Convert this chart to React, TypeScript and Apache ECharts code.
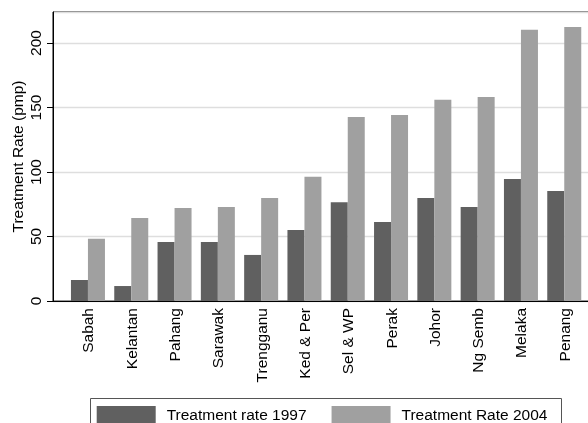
import React, { useEffect, useRef } from "react";
import * as echarts from "echarts";

const categories = ["Sabah", "Kelantan", "Pahang", "Sarawak", "Trengganu", "Ked & Per", "Sel & WP", "Perak", "Johor", "Ng Semb", "Melaka", "Penang"];
const rate1997 = [16.3, 11.6, 45.7, 45.7, 35.7, 55.0, 76.5, 61.2, 79.8, 72.9, 94.6, 85.3];
const rate2004 = [48.3, 64.3, 72.1, 72.9, 79.8, 96.4, 142.6, 144.2, 156.0, 158.1, 210.3, 212.4];
const yTicks = [0, 50, 100, 150, 200];

const FONT = "'Liberation Sans', Arial, sans-serif";
const FS = 15.5;

export default function App() {
  const ref = useRef<HTMLDivElement>(null);
  useEffect(() => {
    const chart = echarts.init(ref.current!, null, { renderer: "svg" });
    const yMax = 224;
    chart.setOption({
      animation: false,
      textStyle: { fontFamily: FONT },
      grid: [
        { left: 66.3, top: 12, width: 519.6, height: 289, containLabel: false, outerBoundsMode: "none" },
        {
          left: 53,
          top: 12,
          width: 560,
          height: 289,
          show: true,
          borderColor: "#000",
          borderWidth: 1,
          backgroundColor: "transparent",
          containLabel: false,
          outerBoundsMode: "none",
        },
      ],
      graphic: [
        {
          type: "polyline",
          shape: { points: [[90.5, 430], [90.5, 398.5], [561.5, 398.5], [561.5, 430]] },
          style: { fill: "none", stroke: "#555", lineWidth: 1 },
          z: 0,
        },
      ],
      legend: {
        left: 90,
        top: 398,
        orient: "horizontal",
        padding: [8, 0, 8, 6.7],
        itemGap: 25,
        itemWidth: 59,
        itemHeight: 17,
        borderWidth: 0,
        icon: "rect",
        textStyle: { fontFamily: FONT, fontSize: FS, color: "#000", padding: [0, 0, 0, 6] },
        data: ["Treatment rate 1997", "Treatment Rate 2004"],
      },
      xAxis: [
        {
          type: "category",
          gridIndex: 0,
          data: categories,
          axisLine: { show: false },
          axisTick: { show: false },
          axisLabel: { rotate: 90, margin: 7, fontFamily: FONT, fontSize: FS, color: "#000", interval: 0 },
        },
        {
          type: "value",
          gridIndex: 1,
          min: 0,
          max: 1,
          axisLine: { show: true, lineStyle: { color: "#000", width: 1 } },
          axisTick: { show: false },
          axisLabel: { show: false },
          splitLine: { show: false },
        },
      ],
      yAxis: [
        {
          type: "value",
          gridIndex: 0,
          min: 0,
          max: yMax,
          show: false,
          splitLine: { show: false },
        },
        {
          type: "value",
          gridIndex: 1,
          min: 0,
          max: yMax,
          interval: 50,
          name: "Treatment Rate (pmp)",
          nameLocation: "middle",
          nameGap: 28,
          nameMoveOverlap: false,
          nameTextStyle: { fontFamily: FONT, fontSize: FS, color: "#000" },
          axisLine: { show: true, lineStyle: { color: "#000", width: 1 } },
          axisTick: { show: true, inside: false, length: 6, lineStyle: { color: "#000" } },
          axisLabel: {
            rotate: 90,
            margin: 10,
            fontFamily: FONT,
            fontSize: FS,
            color: "#000",
            showMaxLabel: false,
            formatter: (v: number) => (yTicks.includes(v) ? String(v) : ""),
          },
          splitLine: { show: true, lineStyle: { color: "#dedede", width: 1.3 } },
        },
      ],
      series: [
        {
          name: "Treatment rate 1997",
          type: "bar",
          xAxisIndex: 0,
          yAxisIndex: 0,
          data: rate1997,
          barWidth: 17,
          barGap: "0%",
          itemStyle: { color: "#606060" },
        },
        {
          name: "Treatment Rate 2004",
          type: "bar",
          xAxisIndex: 0,
          yAxisIndex: 0,
          data: rate2004,
          barWidth: 17,
          barGap: "0%",
          itemStyle: { color: "#a0a0a0" },
        },
      ],
    });
    return () => chart.dispose();
  }, []);
  return <div ref={ref} style={{ width: 588, height: 423, position: "fixed", left: 0, top: 0 }} />;
}
